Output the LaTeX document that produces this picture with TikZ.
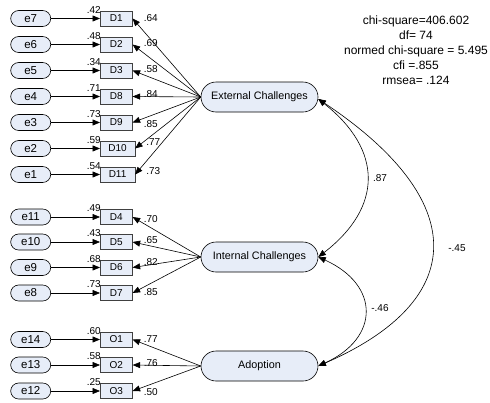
\documentclass[tikz,border=0pt]{standalone}
\usepackage{fontspec}
\setmainfont{Liberation Sans}
\usetikzlibrary{arrows.meta}
\definecolor{boxfill}{RGB}{231,237,248}
\begin{document}
\begin{tikzpicture}[x=1pt,y=-1pt,
  err/.style={draw, rounded corners=8pt, fill=boxfill, minimum width=40pt, minimum height=16pt, inner sep=0pt, line width=0.6pt, font=\fontsize{11.5}{12}\selectfont},
  obs/.style={draw=black!75, fill=boxfill, minimum height=15pt, inner sep=0pt, anchor=west, line width=0.6pt, font=\fontsize{10}{11}\selectfont},
  lat/.style={draw, rounded corners=15pt, fill=boxfill, minimum width=117pt, minimum height=30pt, inner sep=0pt, line width=0.6pt, font=\fontsize{10.8}{12}\selectfont},
  arr/.style={-{Triangle[length=7.5pt,width=6pt]}, line width=0.6pt},
  darr/.style={{Triangle[length=7.5pt,width=6pt]}-{Triangle[length=7.5pt,width=6pt]}, line width=0.6pt},
  lbl/.style={font=\fontsize{10}{11}\selectfont, inner sep=0pt},
]
\useasboundingbox (0,0) rectangle (490,402);

\node[lat] (Ext) at (259.5,97) {External Challenges};
\node[lat] (Int) at (259.5,257) {Internal Challenges};
\node[lat] (Adopt) at (259.5,366) {Adoption};

\foreach \b/\y/\e/\s/\l/\dy/\w/\L in {
  D1/18.5/e7/.42/.64/0/32/Ext, D2/44.5/e6/.48/.69/-1/32/Ext, D3/70.5/e5/.34/.58/-1.5/32/Ext,
  D8/96.5/e4/.71/.84/-2.5/32/Ext, D9/122.5/e3/.73/.85/1.5/32/Ext, D10/148.5/e2/.59/.77/-6/34.5/Ext,
  D11/174.5/e1/.54/.73/-3.5/34.5/Ext,
  D4/217/e11/.49/.70/2/32/Int, D5/242/e10/.43/.65/-2/32/Int, D6/267.5/e9/.68/.82/-5/32/Int,
  D7/293/e8/.73/.85/-1/32/Int,
  O1/339.5/e14/.60/.77/-0.5/32/Adopt, O2/365/e13/.58/.76/-2/32/Adopt, O3/391/e12/.25/.50/1/32/Adopt} {
  \node[obs, minimum width=\w pt] (\b) at (100,\y) {\b};
  \node[err] (\e) at (30.7,\y) {\e};
  \draw[arr] (\e) -- (\b);
  \node[lbl, anchor=south east] (s\b) at ([xshift=1pt,yshift=-3pt]\b.north west) {\s};
  \draw[arr] (\L.west) -- (\b.east);
  \node[lbl, anchor=west] (l\b) at ([xshift=11pt,yshift=-\dy pt]\b.east) {\l};
}

\draw[darr] ([yshift=-2pt]Ext.east) .. controls (383,150) and (383,207) .. (Int.east);
\draw[darr] ([yshift=-2pt]Ext.east) .. controls (470,200) and (470,300) .. (Adopt.east);
\draw[darr] (Int.east) .. controls (380,285) and (380,338) .. (Adopt.east);

\node[lbl] (c1) at (380,178) {.87};
\node[lbl] (c2) at (457,248) {-.45};
\node[lbl] (c3) at (380,308) {-.46};

\node[align=center, inner sep=0pt, font=\fontsize{12}{15}\selectfont] (stats) at (416,50)
  {chi-square=406.602\\df= 74\\normed chi-square = 5.495\\cfi =.855\\rmsea= .124};
\end{tikzpicture}
\end{document}
